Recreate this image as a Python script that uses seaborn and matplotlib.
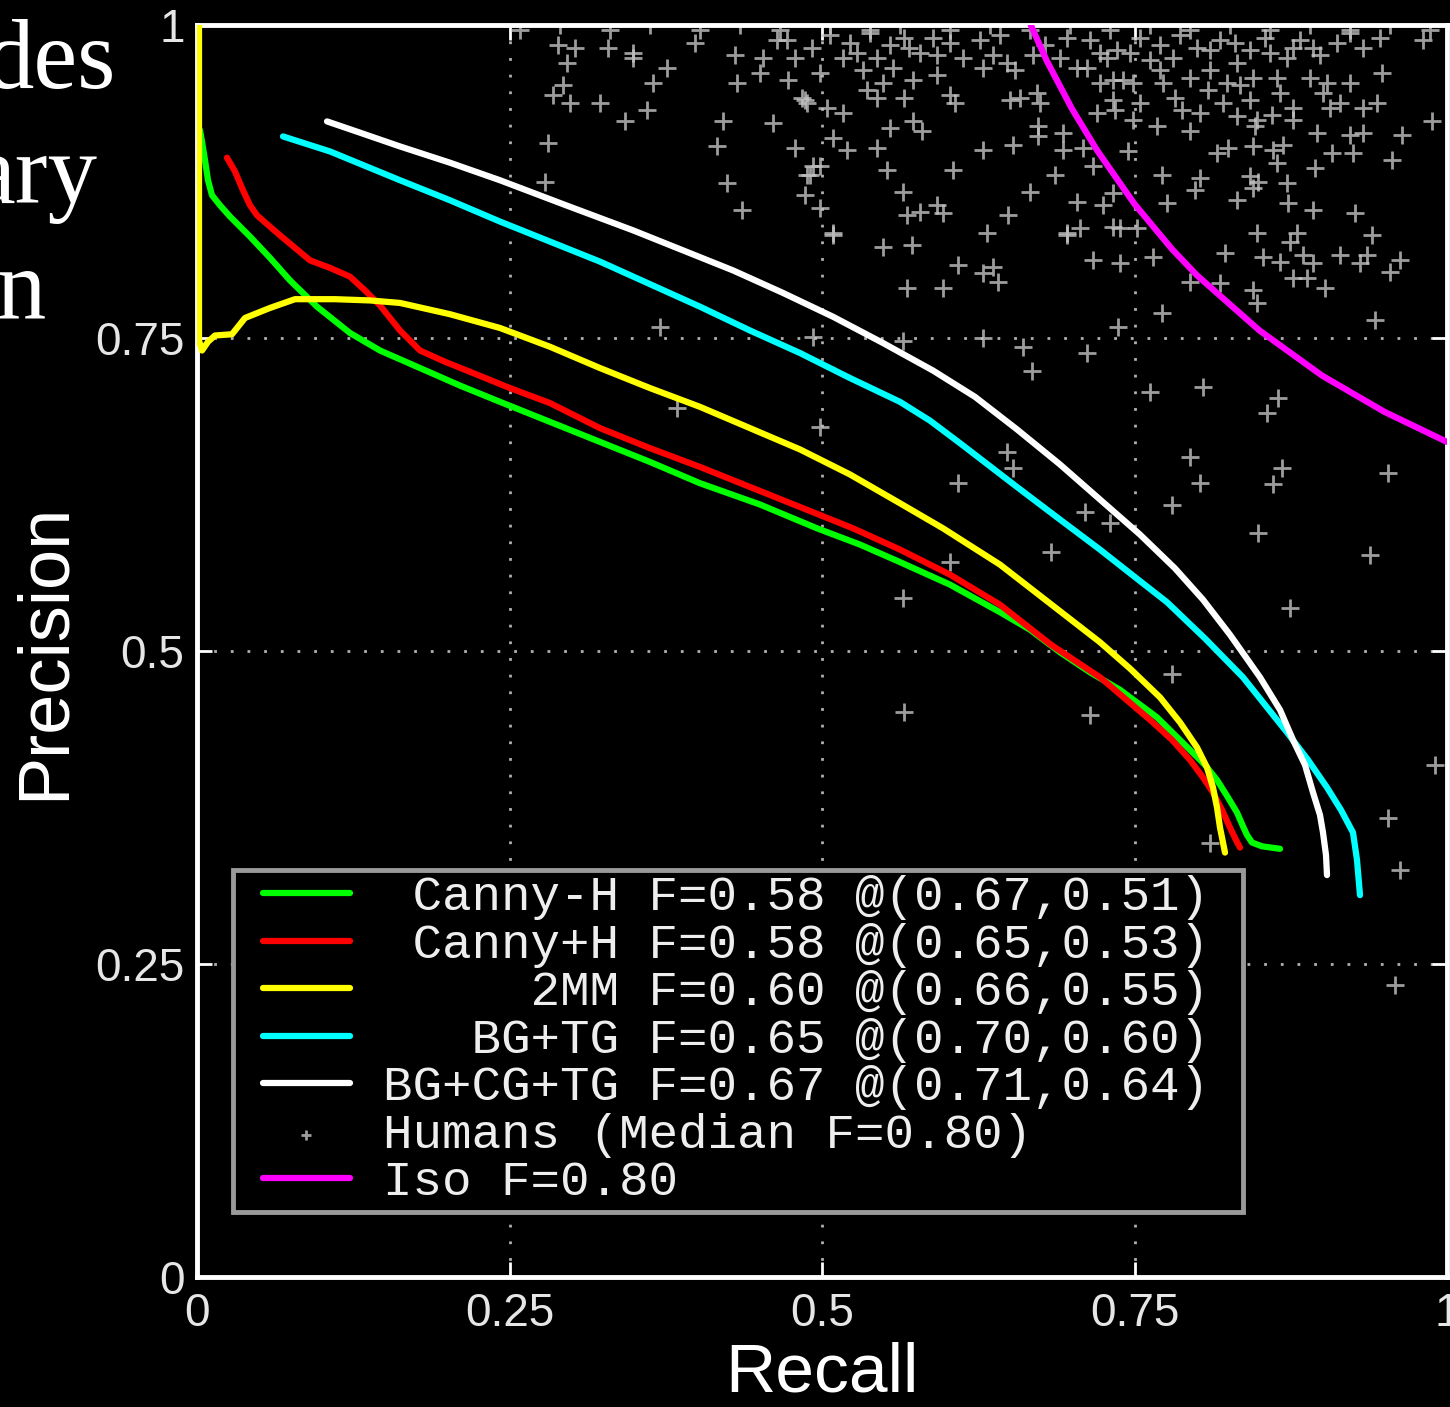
import matplotlib
matplotlib.use('Agg')
import matplotlib.pyplot as plt
from matplotlib.patches import Rectangle
import seaborn as sns

# precision / recall curves
cannyh_recall = [0.0024, 0.004, 0.0064, 0.0088, 0.012, 0.0184, 0.0264, 0.0424, 0.0584, 0.0744,
                 0.096, 0.1224, 0.1464, 0.1784, 0.2104, 0.2424, 0.2824, 0.3224, 0.3624, 0.4024,
                 0.4504, 0.496, 0.5304, 0.5624, 0.6024, 0.6424, 0.6664, 0.6904, 0.7144, 0.7384,
                 0.768, 0.7944, 0.8064, 0.816, 0.8248, 0.832, 0.8368, 0.84, 0.844, 0.852, 0.8664]
cannyh_precision = [0.916, 0.907, 0.892, 0.876, 0.864, 0.856, 0.847, 0.831, 0.814, 0.796,
                    0.775, 0.754, 0.740, 0.726, 0.712, 0.699, 0.683, 0.667, 0.651, 0.634,
                    0.617, 0.598, 0.585, 0.571, 0.553, 0.531, 0.517, 0.499, 0.483, 0.469,
                    0.447, 0.421, 0.409, 0.397, 0.383, 0.371, 0.360, 0.353, 0.347, 0.344, 0.342]

cannyph_recall = [0.024, 0.0304, 0.0368, 0.0424, 0.048, 0.056, 0.0664, 0.0784, 0.0904, 0.1064,
                  0.1224, 0.1344, 0.1464, 0.1624, 0.1784, 0.1984, 0.2184, 0.2504, 0.2824,
                  0.3224, 0.3624, 0.4024, 0.4424, 0.4824, 0.5248, 0.5624, 0.6024, 0.6424,
                  0.6832, 0.7224, 0.7624, 0.78, 0.7944, 0.8048, 0.8128, 0.82, 0.8264, 0.8312,
                  0.8344]
cannyph_precision = [0.894, 0.883, 0.868, 0.856, 0.848, 0.841, 0.832, 0.822, 0.812, 0.806,
                     0.799, 0.788, 0.776, 0.756, 0.740, 0.731, 0.723, 0.710, 0.698,
                     0.678, 0.662, 0.647, 0.631, 0.615, 0.598, 0.581, 0.561, 0.537,
                     0.505, 0.479, 0.445, 0.429, 0.413, 0.399, 0.387, 0.373, 0.359, 0.349,
                     0.343]

mm2_recall = [0.0016, 0.0016, 0.0016, 0.004, 0.0088, 0.0144, 0.028, 0.0384, 0.0584, 0.0784,
              0.1104, 0.1384, 0.1624, 0.2024, 0.2424, 0.2824, 0.3224, 0.3624, 0.4024, 0.4424,
              0.4824, 0.5224, 0.5624, 0.5968, 0.6424, 0.6824, 0.7224, 0.7464, 0.7704, 0.7864,
              0.8, 0.808, 0.8128, 0.816, 0.8184, 0.8208, 0.8224]
mm2_precision = [1.0, 0.860, 0.748, 0.740, 0.747, 0.752, 0.753, 0.766, 0.774, 0.781,
                 0.781, 0.780, 0.778, 0.769, 0.758, 0.743, 0.726, 0.710, 0.695, 0.678,
                 0.661, 0.641, 0.618, 0.598, 0.569, 0.538, 0.507, 0.486, 0.463, 0.443,
                 0.423, 0.407, 0.391, 0.375, 0.359, 0.347, 0.339]

bgtg_recall = [0.0688, 0.1064, 0.1624, 0.2024, 0.2424, 0.2824, 0.3224, 0.3624, 0.4024, 0.4424,
               0.4824, 0.5224, 0.5624, 0.5864, 0.6104, 0.656, 0.6904, 0.7224, 0.7504, 0.776,
               0.8064, 0.8368, 0.8544, 0.872, 0.8888, 0.904, 0.9152, 0.9248, 0.928, 0.9304]
bgtg_precision = [0.911, 0.899, 0.876, 0.860, 0.843, 0.827, 0.811, 0.793, 0.775, 0.756,
                  0.738, 0.718, 0.699, 0.684, 0.666, 0.631, 0.605, 0.581, 0.559, 0.539,
                  0.510, 0.479, 0.457, 0.435, 0.413, 0.391, 0.373, 0.355, 0.333, 0.305]

bgcgtg_recall = [0.104, 0.1304, 0.1624, 0.2024, 0.2424, 0.2952, 0.3488, 0.3888, 0.4288, 0.4688,
                 0.5088, 0.5488, 0.5888, 0.6224, 0.656, 0.6904, 0.7224, 0.7544, 0.7824, 0.8048,
                 0.8264, 0.8504, 0.8664, 0.8768, 0.8864, 0.8928, 0.8984, 0.9008, 0.9032, 0.904]
bgcgtg_precision = [0.923, 0.914, 0.903, 0.890, 0.876, 0.856, 0.836, 0.820, 0.804, 0.786,
                    0.767, 0.746, 0.724, 0.703, 0.677, 0.649, 0.621, 0.593, 0.566, 0.541,
                    0.513, 0.479, 0.453, 0.429, 0.409, 0.387, 0.369, 0.355, 0.337, 0.321]

iso_recall = [0.667, 0.68, 0.70, 0.72, 0.75, 0.78, 0.80, 0.85, 0.90, 0.95, 1.0]
iso_precision = [1.0, 0.971, 0.933, 0.900, 0.857, 0.821, 0.800, 0.756, 0.720, 0.691, 0.667]

human_recall = [
    0.289, 0.302, 0.329, 0.349, 0.349, 0.296, 0.398, 0.430, 0.453, 0.478, 0.464, 0.472, 0.492,
    0.376, 0.365, 0.432, 0.450, 0.473, 0.293, 0.285, 0.298, 0.322, 0.360, 0.484, 0.488, 0.342,
    0.421, 0.461, 0.281, 0.416, 0.478, 0.493, 0.490, 0.278, 0.424, 0.486, 0.436,
    0.498, 0.528, 0.517, 0.544, 0.554, 0.570, 0.589, 0.578, 0.592, 0.613, 0.626, 0.637, 0.648,
    0.629, 0.654, 0.669, 0.690, 0.696, 0.704, 0.712, 0.722, 0.728, 0.533, 0.557, 0.549, 0.573,
    0.592, 0.722, 0.733, 0.486, 0.504, 0.517, 0.536, 0.544, 0.566, 0.602, 0.606, 0.650, 0.658,
    0.674, 0.672, 0.720, 0.733, 0.734, 0.554, 0.573, 0.580, 0.509, 0.520, 0.544, 0.629, 0.653,
    0.673, 0.673, 0.693, 0.693, 0.709, 0.498, 0.488, 0.552, 0.605, 0.686, 0.717, 0.565, 0.666,
    0.498, 0.592, 0.568, 0.578, 0.597, 0.649, 0.704, 0.725, 0.509, 0.632, 0.696, 0.706, 0.733,
    0.733,
    0.736, 0.746, 0.762, 0.781, 0.800, 0.818, 0.832, 0.842, 0.858, 0.872, 0.877, 0.893, 0.912,
    0.922, 0.933, 0.946, 0.981, 0.741, 0.749, 0.773, 0.794, 0.824, 0.845, 0.864, 0.890, 0.904,
    0.922, 0.948, 0.901, 0.754, 0.782, 0.809, 0.821, 0.842, 0.877, 0.906, 0.914, 0.933, 0.944,
    0.749, 0.768, 0.788, 0.802, 0.832, 0.848, 0.860, 0.877, 0.988, 0.794, 0.846, 0.896, 0.922,
    0.933, 0.964, 0.745, 0.816, 0.825, 0.845, 0.861, 0.869, 0.908, 0.925, 0.956, 0.864, 0.894,
    0.772, 0.802, 0.842, 0.849, 0.872, 0.798, 0.845, 0.832, 0.776, 0.873, 0.893, 0.926, 0.848,
    0.880, 0.940, 0.738, 0.752,
    0.696, 0.717, 0.738, 0.765, 0.874, 0.822, 0.853, 0.866, 0.885, 0.893, 0.914, 0.936, 0.930,
    0.962, 0.954, 0.794, 0.818, 0.845, 0.848, 0.877, 0.888, 0.902, 0.942, 0.772, 0.737, 0.661,
    0.712, 0.668, 0.762, 0.805, 0.865, 0.856, 0.794, 0.868, 0.953, 0.802, 0.861, 0.780, 0.710,
    0.730,
    0.509, 0.549, 0.572, 0.609, 0.637, 0.629, 0.641, 0.568, 0.597, 0.370, 0.493, 0.565, 0.629,
    0.384, 0.498, 0.648, 0.653, 0.609,
    0.849, 0.938, 0.874, 0.683, 0.602, 0.565, 0.780, 0.566, 0.714, 0.990, 0.953, 0.810, 0.962,
    0.958,
    0.258, 0.290, 0.330, 0.362, 0.402, 0.434, 0.466, 0.506, 0.538, 0.562, 0.602, 0.634, 0.666,
    0.698, 0.730, 0.762, 0.794, 0.826, 0.858, 0.890, 0.922, 0.954, 0.986,
    0.506, 0.522, 0.538, 0.566, 0.602, 0.642, 0.678, 0.714, 0.754, 0.770, 0.786, 0.810, 0.830,
    0.854, 0.882, 0.898, 0.770, 0.810, 0.834, 0.866]
human_precision = [
    0.984, 0.982, 0.982, 0.978, 0.974, 0.970, 0.986, 0.976, 0.974, 0.974, 0.988, 0.988, 0.982,
    0.966, 0.954, 0.954, 0.962, 0.956, 0.952, 0.944, 0.938, 0.938, 0.932, 0.942, 0.938, 0.923,
    0.923, 0.922, 0.906, 0.903, 0.902, 0.887, 0.880, 0.875, 0.874, 0.864, 0.852,
    0.962, 0.978, 0.974, 0.974, 0.984, 0.982, 0.990, 0.978, 0.976, 0.974, 0.988, 0.976, 0.970,
    0.966, 0.964, 0.976, 0.974, 0.990, 0.966, 0.966, 0.978, 0.974, 0.964, 0.966, 0.954, 0.956,
    0.960, 0.954, 0.956, 0.940, 0.934, 0.930, 0.948, 0.942, 0.942, 0.944, 0.938, 0.940, 0.942,
    0.938, 0.946, 0.930, 0.940, 0.932, 0.918, 0.923, 0.915, 0.910, 0.900, 0.902, 0.900, 0.904,
    0.919, 0.911, 0.914, 0.900, 0.902, 0.887, 0.880, 0.884, 0.884, 0.880, 0.887, 0.867, 0.867,
    0.854, 0.856, 0.848, 0.851, 0.850, 0.848, 0.859, 0.856, 0.834, 0.834, 0.834, 0.838, 0.866,
    0.839,
    0.980, 0.978, 0.972, 0.974, 0.982, 0.988, 0.970, 0.980, 0.978, 0.974, 0.982, 0.982, 0.986,
    0.994, 0.982, 0.990, 0.988, 0.956, 0.954, 0.954, 0.958, 0.954, 0.958, 0.958, 0.958, 0.954,
    0.954, 0.962, 0.946, 0.938, 0.942, 0.948, 0.938, 0.940, 0.934, 0.934, 0.938, 0.934, 0.938,
    0.924, 0.919, 0.932, 0.930, 0.927, 0.924, 0.928, 0.924, 0.923, 0.915, 0.919, 0.914, 0.912,
    0.914, 0.912, 0.899, 0.898, 0.902, 0.903, 0.900, 0.904, 0.898, 0.898, 0.892, 0.890, 0.886,
    0.880, 0.878, 0.879, 0.875, 0.874, 0.868, 0.870, 0.860, 0.858, 0.858, 0.852, 0.850, 0.834,
    0.834, 0.832, 0.838, 0.838,
    0.832, 0.812, 0.810, 0.815, 0.827, 0.818, 0.815, 0.811, 0.816, 0.810, 0.816, 0.816, 0.810,
    0.812, 0.803, 0.795, 0.794, 0.788, 0.778, 0.798, 0.798, 0.790, 0.764, 0.770, 0.759, 0.743,
    0.738, 0.724, 0.707, 0.711, 0.702, 0.690, 0.655, 0.646, 0.642, 0.634, 0.633, 0.617, 0.611,
    0.602,
    0.832, 0.823, 0.824, 0.808, 0.807, 0.802, 0.795, 0.790, 0.790, 0.759, 0.751, 0.748, 0.750,
    0.694, 0.679, 0.659, 0.646, 0.634,
    0.594, 0.577, 0.534, 0.579, 0.571, 0.542, 0.482, 0.451, 0.449, 0.409, 0.367, 0.347, 0.325,
    0.233,
    0.996, 1.000, 0.996, 1.000, 0.996, 1.000, 0.996, 1.000, 0.996, 1.000, 0.996, 1.000, 0.996,
    1.000, 0.996, 1.000, 0.996, 1.000, 0.996, 1.000, 0.996, 1.000, 0.996,
    0.992, 0.986, 0.994, 0.990, 0.986, 0.992, 0.984, 0.988, 0.990, 0.984, 0.992, 0.980, 0.986,
    0.990, 0.988, 0.976, 0.964, 0.964, 0.952, 0.946]

curve_labels = [' Canny-H F=0.58 @(0.67,0.51)',
                ' Canny+H F=0.58 @(0.65,0.53)',
                '     2MM F=0.60 @(0.66,0.55)',
                '   BG+TG F=0.65 @(0.70,0.60)',
                'BG+CG+TG F=0.67 @(0.71,0.64)']
human_label = 'Humans (Median F=0.80)'
iso_label = 'Iso F=0.80'
curve_colors = ['#00ff00', '#ff0000', '#ffff00', '#00ffff', '#ffffff']
ISO_COLOR = '#ff00ff'

ticks = [0, 0.25, 0.5, 0.75, 1]
tick_labels = ['0', '0.25', '0.5', '0.75', '1']

sns.set_theme(style='ticks')
plt.rcParams['font.family'] = ['Liberation Sans', 'DejaVu Sans']

fig = plt.figure(figsize=(14.5, 14.07), dpi=100, facecolor='black')
ax = fig.add_axes([197 / 1450, 130 / 1407, 1250 / 1450, 1252 / 1407])
ax.set_facecolor('black')

sns.scatterplot(x=human_recall, y=human_precision, marker='+', s=150, color='#c4c4c4',
                linewidth=2, alpha=0.8, label=human_label, ax=ax, zorder=1)

curves = [(cannyh_recall, cannyh_precision), (cannyph_recall, cannyph_precision),
          (mm2_recall, mm2_precision), (bgtg_recall, bgtg_precision),
          (bgcgtg_recall, bgcgtg_precision)]
for (rx, py), lab, col in zip(curves, curve_labels, curve_colors):
    sns.lineplot(x=rx, y=py, sort=False, estimator=None, color=col, linewidth=4.5,
                 label=lab, ax=ax, zorder=3)

sns.lineplot(x=iso_recall, y=iso_precision, sort=False, estimator=None, color=ISO_COLOR,
             linewidth=4.5, label=iso_label, ax=ax, zorder=3)

ax.set_xlim(0, 1)
ax.set_ylim(0, 1)
ax.set_xticks(ticks)
ax.set_xticklabels(tick_labels)
ax.set_yticks(ticks)
ax.set_yticklabels(tick_labels)
ax.tick_params(direction='in', length=11, width=2, color='white', labelcolor='#e6e6e6',
               labelsize=33, top=True, right=True)
ax.tick_params(axis='x', pad=11)
ax.tick_params(axis='y', pad=9)
ax.grid(True, color='#b0b0b0', linestyle=(0, (1, 5)), linewidth=2)
for sp in ax.spines.values():
    sp.set_color('white')
    sp.set_linewidth(3.5)

ax.set_xlabel('Recall', fontsize=50, color='white', labelpad=4)
ax.set_ylabel('Precision', fontsize=52, color='white', labelpad=12)

# legend box drawn separately so the padding matches the original
ax.add_patch(Rectangle((0.0288, 0.0519), 0.808, 0.2732, transform=ax.transAxes,
                       facecolor='black', edgecolor='#9a9a9a', linewidth=3.5, zorder=4))

handles, labels = ax.get_legend_handles_labels()
order = curve_labels + [human_label, iso_label]
hmap = dict(zip(labels, handles))
leg = ax.legend([hmap[l] for l in order], order, loc='upper left',
                bbox_to_anchor=(0.0528, 0.3207), borderaxespad=0, borderpad=0,
                prop={'family': 'Liberation Mono', 'size': 35.5},
                labelcolor='#eeeeee', frameon=False,
                handlelength=1.76, handletextpad=0.67, labelspacing=0.05,
                markerscale=0.55)
leg.set_zorder(5)

# slide text cut off at the left edge
serif = ['Liberation Serif', 'DejaVu Serif']
fig.text(116 / 1450, 1 - 88 / 1407, 'des', ha='right', va='baseline', fontsize=71,
         color='white', family=serif)
fig.text(98 / 1450, 1 - 203 / 1407, 'ary', ha='right', va='baseline', fontsize=71,
         color='white', family=serif)
fig.text(46 / 1450, 1 - 318 / 1407, 'n', ha='right', va='baseline', fontsize=71,
         color='white', family=serif)

fig.savefig('out.png', dpi=100, facecolor='black')
